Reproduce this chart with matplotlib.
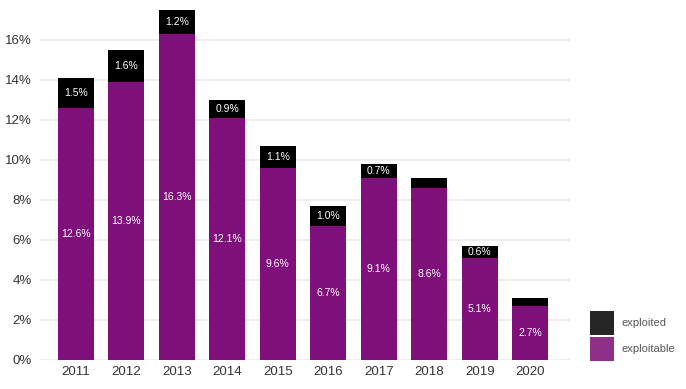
import matplotlib
matplotlib.use("Agg")
import matplotlib.pyplot as plt
from matplotlib.patches import Patch
import numpy as np

years = ["2011", "2012", "2013", "2014", "2015", "2016", "2017", "2018", "2019", "2020"]
exploitable = [12.6, 13.9, 16.3, 12.1, 9.6, 6.7, 9.1, 8.6, 5.1, 2.7]
exploited = [1.5, 1.6, 1.2, 0.9, 1.1, 1.0, 0.7, 0.5, 0.6, 0.4]
show_exploited_label = [True, True, True, True, True, True, True, False, True, False]

plt.rcParams['font.family'] = ['Liberation Sans', 'DejaVu Sans']

W, H = 686, 389
fig = plt.figure(figsize=(W / 100, H / 100), dpi=100)
ax = fig.add_axes([40 / W, (H - 360) / H, (570 - 40) / W, (360 - 5) / H])

purple = "#7F0F7A"
black = "#000000"
x = np.arange(len(years))
width = 0.71

ax.bar(x, exploitable, width=width, color=purple, zorder=2)
ax.bar(x, exploited, width=width, bottom=exploitable, color=black, zorder=2)

for i in range(len(years)):
    ax.text(x[i], exploitable[i] / 2, f"{exploitable[i]:.1f}%", ha="center", va="center",
            color="white", fontsize=7.5, zorder=3)
    if show_exploited_label[i]:
        ax.text(x[i], exploitable[i] + exploited[i] / 2, f"{exploited[i]:.1f}%", ha="center",
                va="center", color="white", fontsize=7.5, zorder=3)

ax.set_xlim(-0.71, 9.79)
ax.set_ylim(0, 17.75)
ax.set_yticks(np.arange(0, 17, 2))
ax.set_yticklabels([f"{v}%" for v in range(0, 17, 2)])
ax.set_xticks(x)
ax.set_xticklabels(years)
ax.tick_params(axis="both", length=0, labelsize=9.5, labelcolor="#333333")
ax.tick_params(axis="y", pad=6)
ax.tick_params(axis="x", pad=4)
ax.grid(axis="y", color="#EBEBEB", linewidth=1.2, zorder=0)
ax.grid(axis="x", visible=False)
for s in ax.spines.values():
    s.set_visible(False)

handles = [Patch(facecolor="#262626", edgecolor="none"), Patch(facecolor="#8E3089", edgecolor="none")]
fig.legend(handles, ["exploited", "exploitable"], loc="lower left",
           bbox_to_anchor=(590 / W, (H - 361) / H), frameon=False, fontsize=8,
           handlelength=2.16, handleheight=2.95, labelspacing=0.18, handletextpad=0.72,
           borderpad=0, borderaxespad=0, labelcolor="#555555")

fig.savefig("out.png", dpi=100)
